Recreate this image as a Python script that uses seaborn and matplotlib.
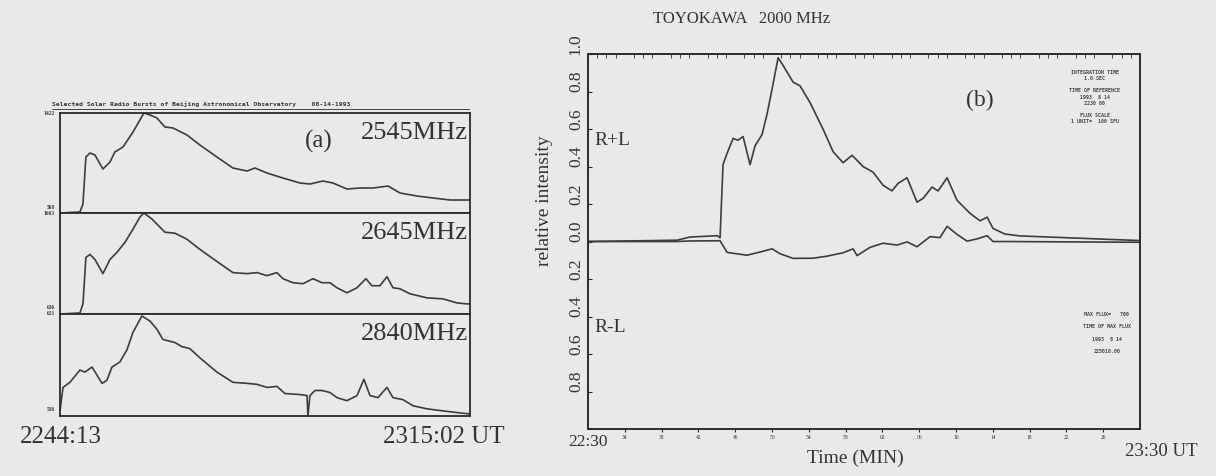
import numpy as np
import pandas as pd
import seaborn as sns
import matplotlib.pyplot as plt
from matplotlib.lines import Line2D
from matplotlib.transforms import ScaledTranslation

# ---- data (a): Beijing, minutes after 22:44:13, normalised flux ----
t_2545 = [0.0, 1.50, 1.73, 1.95, 2.26, 2.63, 3.23, 3.76, 4.13, 4.74, 5.49, 6.01, 6.31, 6.77,
          7.29, 7.89, 8.49, 9.55, 10.52, 11.80, 13.00, 14.06, 14.66, 15.56, 16.76, 18.04,
          18.79, 19.77, 20.52, 21.57, 22.55, 23.53, 24.66, 25.56, 26.84, 28.04, 29.32, 30.59, 30.82]
v_2545 = [0.0, 0.01, 0.09, 0.56, 0.60, 0.58, 0.44, 0.51, 0.61, 0.66, 0.81, 0.93, 1.0, 0.98,
          0.95, 0.86, 0.85, 0.78, 0.68, 0.56, 0.45, 0.42, 0.45, 0.40, 0.35, 0.30,
          0.29, 0.32, 0.30, 0.24, 0.25, 0.25, 0.27, 0.20, 0.17, 0.15, 0.13, 0.13, 0.13]

t_2645 = [0.0, 1.50, 1.73, 1.95, 2.26, 2.63, 3.23, 3.76, 4.28, 4.89, 5.49, 6.01, 6.31, 6.92,
          7.29, 7.89, 8.64, 9.55, 10.52, 11.80, 13.00, 14.06, 14.81, 15.56, 16.31, 16.76,
          17.51, 18.27, 19.02, 19.69, 20.30, 20.82, 21.57, 22.33, 23.00, 23.45, 24.05, 24.58,
          25.03, 25.56, 26.31, 27.59, 28.79, 29.84, 30.59, 30.82]
v_2645 = [0.0, 0.01, 0.10, 0.56, 0.59, 0.54, 0.40, 0.54, 0.61, 0.71, 0.84, 0.96, 1.0, 0.94,
          0.89, 0.81, 0.80, 0.74, 0.64, 0.52, 0.41, 0.40, 0.41, 0.38, 0.41, 0.35,
          0.31, 0.30, 0.35, 0.31, 0.31, 0.26, 0.21, 0.26, 0.35, 0.28, 0.28, 0.37,
          0.26, 0.25, 0.20, 0.16, 0.15, 0.11, 0.10, 0.10]

t_2840 = [0.0, 0.23, 0.75, 1.50, 1.88, 2.41, 3.16, 3.53, 3.91, 4.51, 5.04, 5.49, 6.16, 6.77,
          7.29, 7.74, 8.64, 9.17, 9.77, 10.52, 11.80, 13.00, 14.06, 14.81, 15.56, 16.31,
          16.91, 18.04, 18.57, 18.64, 18.79, 19.17, 19.69, 20.30, 20.82, 21.57, 22.33, 22.85,
          23.30, 23.90, 24.58, 25.03, 25.78, 26.54, 27.59, 28.79, 30.07, 30.82]
v_2840 = [0.05, 0.28, 0.33, 0.45, 0.43, 0.48, 0.32, 0.35, 0.48, 0.53, 0.65, 0.82, 0.98, 0.93,
          0.85, 0.75, 0.72, 0.68, 0.66, 0.57, 0.43, 0.33, 0.32, 0.31, 0.28, 0.29,
          0.22, 0.21, 0.20, 0.0, 0.20, 0.25, 0.25, 0.23, 0.18, 0.15, 0.20, 0.36,
          0.20, 0.18, 0.28, 0.18, 0.16, 0.10, 0.07, 0.05, 0.03, 0.02]

duration_a = 30.82  # 22:44:13 -> 23:15:02

# ---- data (b): Toyokawa 2000 MHz, minutes after 22:30 ----
t_rl = [0.0, 9.67, 11.08, 14.03, 14.35, 14.67, 15.11, 15.77, 16.30, 16.85, 17.61, 18.15,
        18.91, 19.46, 20.11, 20.66, 21.19, 22.29, 23.05, 24.14, 25.54, 26.63, 27.72, 28.70,
        29.89, 30.98, 32.07, 33.04, 33.70, 34.68, 35.76, 36.42, 37.39, 38.05, 39.03, 40.11,
        41.53, 42.62, 43.38, 44.02, 45.31, 46.92, 60.0]
v_rl = [0.0, 0.007, 0.024, 0.031, 0.020, 0.41, 0.47, 0.55, 0.54, 0.56, 0.41, 0.51,
        0.57, 0.68, 0.84, 0.98, 0.94, 0.85, 0.83, 0.74, 0.60, 0.48, 0.42, 0.46,
        0.40, 0.37, 0.30, 0.27, 0.31, 0.34, 0.21, 0.23, 0.29, 0.27, 0.34, 0.22,
        0.15, 0.11, 0.13, 0.07, 0.04, 0.03, 0.005]

t_rml = [0.0, 9.67, 11.08, 14.03, 14.35, 15.11, 17.28, 18.70, 20.00, 20.87, 22.29, 24.46,
         25.98, 27.72, 28.81, 29.24, 30.66, 32.07, 33.59, 34.68, 35.76, 37.18, 38.26, 39.03,
         40.11, 41.20, 42.28, 43.38, 44.02, 45.31, 60.0]
v_rml = [0.0, 0.0, 0.003, 0.004, 0.004, -0.058, -0.073, -0.056, -0.039, -0.065, -0.090, -0.089,
         -0.078, -0.060, -0.039, -0.075, -0.031, -0.009, -0.019, -0.002, -0.028, 0.026, 0.021, 0.081,
         0.038, 0.002, 0.014, 0.031, 0.0, 0.0, -0.004]

freqs_a = ['2545MHz', '2645MHz', '2840MHz']
scale_labels = [('1422', '560'), ('1663', '636'), ('621', '536')]
ytick_b = [-1.0, -0.8, -0.6, -0.4, -0.2, 0.0, 0.2, 0.4, 0.6, 0.8, 1.0]
ytick_b_labels = ['', '0.8', '0.6', '0.4', '0.2', '0.0', '0.2', '0.4', '0.6', '0.8', '1.0']
xtick_b = [4, 8, 12, 16, 20, 24, 28, 32, 36, 40, 44, 48, 52, 56]
xtick_b_labels = ['34', '38', '42', '46', '50', '54', '58', '02', '06', '10', '14', '18', '22', '26']

sns.set_style("white")
plt.rcParams['font.family'] = ['Liberation Serif', 'DejaVu Serif']
paper = '#e9e9e9'
ink = '#3c3c3c'

fig = plt.figure(figsize=(12.16, 4.76), dpi=100, facecolor=paper)

# ---- panel (a) ----
series_a = [(t_2545, v_2545), (t_2645, v_2645), (t_2840, v_2840)]
rows = [(0.5525, 0.2101), (0.3403, 0.2122), (0.1261, 0.2143)]
for i, ((tt, vv), (b, h)) in enumerate(zip(series_a, rows)):
    ax = fig.add_axes([0.0493, b, 0.3372, h], facecolor=paper)
    df = pd.DataFrame({'t': tt, 'v': vv})
    sns.lineplot(data=df, x='t', y='v', ax=ax, color=ink, lw=1.2, estimator=None)
    ax.set_xlim(0, duration_a)
    ax.set_ylim(0, 1.0)
    ax.set_xlabel('')
    ax.set_ylabel('')
    ax.set_yticks([])
    for s in ax.spines.values():
        s.set_color('#2a2a2a')
        s.set_linewidth(1.3)
    if i < 2:
        ax.set_xticks([])
    else:
        ax.set_xticks(np.linspace(0, duration_a, 11))
        ax.set_xticklabels([])
        ax.tick_params(axis='x', direction='out', length=3, width=1, color='#2a2a2a')
    ax.text(0.995, 0.80, freqs_a[i], transform=ax.transAxes, ha='right', va='center',
            fontsize=19, color='#333333')
    ax.text(-0.012, 1.0, scale_labels[i][0], transform=ax.transAxes, ha='right', va='center',
            fontsize=4, fontweight='bold', color='#333333')
    ax.text(-0.012, 0.06, scale_labels[i][1], transform=ax.transAxes, ha='right', va='center',
            fontsize=4, fontweight='bold', color='#333333')
    if i == 0:
        ax.text(0.63, 0.72, '(a)', transform=ax.transAxes, ha='center', va='center',
                fontsize=18, color='#333333')

fig.text(0.043, 1 - 104 / 476, 'Selected Solar Radio Bursts of Beijing Astronomical Observatory    08-14-1993',
         fontsize=4.6, fontweight='bold', family='DejaVu Sans Mono', color='#333333', va='center')
fig.add_artist(Line2D([0.043, 0.386], [1 - 108.5 / 476] * 2, color='#444444', lw=0.7))
fig.text(20 / 1216, 1 - 437 / 476, '2244:13', fontsize=18, color='#333333', va='center')
fig.text(505 / 1216, 1 - 437 / 476, '2315:02 UT', fontsize=18, color='#333333', va='center', ha='right')

# ---- panel (b) ----
axb = fig.add_axes([0.4836, 0.0987, 0.4539, 0.7878], facecolor=paper)
df_rl = pd.DataFrame({'t': t_rl, 'v': v_rl})
df_rml = pd.DataFrame({'t': t_rml, 'v': v_rml})
sns.lineplot(data=df_rl, x='t', y='v', ax=axb, color=ink, lw=1.2, estimator=None)
sns.lineplot(data=df_rml, x='t', y='v', ax=axb, color=ink, lw=1.2, estimator=None)
axb.set_xlim(0, 60)
axb.set_ylim(-1.0, 1.0)
for s in axb.spines.values():
    s.set_color('#2a2a2a')
    s.set_linewidth(1.4)
axb.set_yticks(ytick_b)
axb.set_yticklabels(ytick_b_labels, rotation=90, va='center', fontsize=12.5, color='#333333')
axb.tick_params(axis='y', direction='in', length=3, pad=3, left=True)
# the printed labels sit a little above their ticks
shift = ScaledTranslation(0, 10 / 100, fig.dpi_scale_trans)
for lab in axb.get_yticklabels():
    lab.set_transform(lab.get_transform() + shift)
axb.set_xticks(xtick_b)
axb.set_xticklabels(xtick_b_labels, fontsize=4, color='#333333')
axb.set_xticks(np.arange(0, 61, 1), minor=True)
axb.tick_params(axis='x', which='major', direction='out', length=2, pad=2, bottom=True)
axb.tick_params(axis='x', which='minor', direction='in', length=3, top=True, bottom=False)
axb.set_ylabel('relative intensity', fontsize=14, color='#333333', labelpad=3)
axb.yaxis.set_label_coords(-0.063, 0.61)
axb.set_xlabel('')

fig.text(742 / 1216, 1 - 19 / 476, 'TOYOKAWA   2000 MHz', fontsize=12, ha='center', va='center', color='#333333')
axb.text(0.71, 0.877, '(b)', transform=axb.transAxes, fontsize=17, ha='center', va='center', color='#333333')
axb.text(0.012, 0.77, 'R+L', transform=axb.transAxes, fontsize=14, va='center', color='#333333')
axb.text(0.012, 0.27, 'R-L', transform=axb.transAxes, fontsize=14, va='center', color='#333333')
axb.text(0.918, 0.885, 'INTEGRATION TIME\n1.0 SEC\n\nTIME OF REFERENCE\n1993  8 14\n2230 00\n\nFLUX SCALE\n1 UNIT=  100 SFU',
         transform=axb.transAxes, fontsize=3.6, family='DejaVu Sans Mono', fontweight='bold',
         ha='center', va='center', color='#444444', linespacing=1.3)
axb.text(0.94, 0.256, 'MAX FLUX=   700\n\nTIME OF MAX FLUX\n\n1993  8 14\n\n225010.00',
         transform=axb.transAxes, fontsize=3.6, family='DejaVu Sans Mono', fontweight='bold',
         ha='center', va='center', color='#444444', linespacing=1.3)

fig.text(588 / 1216, 1 - 442 / 476, '22:30', fontsize=12.5, ha='center', va='center', color='#333333')
fig.text(1161 / 1216, 1 - 452 / 476, '23:30 UT', fontsize=13.5, ha='center', va='center', color='#333333')
fig.text(855 / 1216, 1 - 458 / 476, 'Time (MIN)', fontsize=14, ha='center', va='center', color='#333333')

fig.savefig('out.png', dpi=100, facecolor=paper)
